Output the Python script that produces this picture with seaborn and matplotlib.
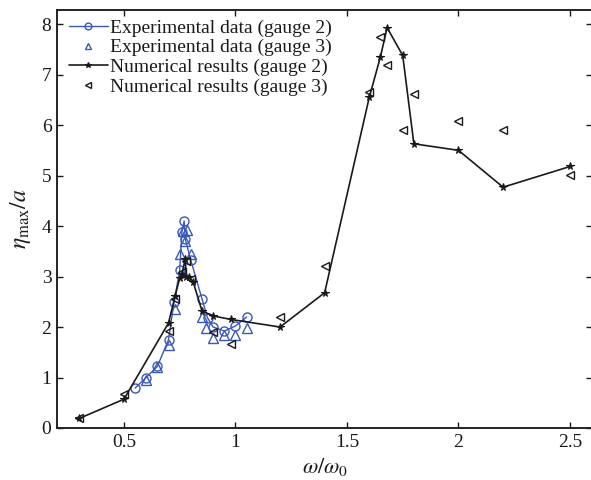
import matplotlib
matplotlib.use("Agg")
import matplotlib.pyplot as plt
import seaborn as sns
import numpy as np

# ---- data ----
exp2_x = [0.55, 0.60, 0.65, 0.70, 0.725, 0.75, 0.76, 0.77, 0.775, 0.80, 0.85, 0.875, 0.90, 0.95, 1.00, 1.05]
exp2_y = [0.79, 1.00, 1.22, 1.75, 2.50, 3.12, 3.88, 4.10, 3.75, 3.32, 2.56, 2.18, 2.00, 1.92, 2.02, 2.20]

exp3_x = [0.60, 0.65, 0.70, 0.73, 0.75, 0.765, 0.775, 0.785, 0.80, 0.85, 0.87, 0.90, 0.95, 1.00, 1.05]
exp3_y = [0.95, 1.20, 1.65, 2.35, 3.45, 3.90, 3.70, 3.92, 3.45, 2.19, 1.99, 1.78, 1.85, 1.85, 1.98]

num2_x = [0.30, 0.50, 0.70, 0.73, 0.75, 0.76, 0.775, 0.78, 0.79, 0.81, 0.85, 0.90, 0.98, 1.20,
          1.40, 1.60, 1.65, 1.68, 1.75, 1.80, 2.00, 2.20, 2.50]
num2_y = [0.19, 0.57, 2.08, 2.62, 2.97, 3.05, 3.35, 3.00, 3.00, 2.90, 2.32, 2.22, 2.15, 2.00,
          2.68, 6.55, 7.35, 7.93, 7.38, 5.63, 5.50, 4.77, 5.18]

num3_x = [0.30, 0.50, 0.70, 0.73, 0.76, 0.78, 0.80, 0.90, 0.98, 1.20,
          1.40, 1.60, 1.65, 1.68, 1.75, 1.80, 2.00, 2.20, 2.50]
num3_y = [0.20, 0.68, 1.92, 2.55, 3.10, 3.30, 2.95, 1.90, 1.67, 2.20,
          3.20, 6.65, 7.75, 7.20, 5.90, 6.62, 6.08, 5.90, 5.02]

labels = ["Experimental data (gauge 2)", "Experimental data (gauge 3)",
          "Numerical results (gauge 2)", "Numerical results (gauge 3)"]
x_ticks = [0.5, 1, 1.5, 2, 2.5]
x_ticklabels = ["0.5", "1", "1.5", "2", "2.5"]
y_ticks = [0, 1, 2, 3, 4, 5, 6, 7, 8]

# ---- style ----
sns.set_theme(style="ticks")
plt.rcParams["font.family"] = ["Liberation Serif", "DejaVu Serif"]
plt.rcParams["mathtext.fontset"] = "stix"

BLUE = "#3a58b8"
BLACK = "#1a1a1a"

fig = plt.figure(figsize=(5.91, 4.80), dpi=100)
ax = fig.add_axes([57 / 591, 52 / 480, (592.3 - 57) / 591, (470 - 52) / 480])

sns.lineplot(x=exp2_x, y=exp2_y, ax=ax, estimator=None, sort=False, color=BLUE,
             linewidth=1.0, marker="o", markersize=6.5, markerfacecolor="none",
             markeredgecolor=BLUE, markeredgewidth=1.0, label=labels[0])
sns.lineplot(x=exp3_x, y=exp3_y, ax=ax, estimator=None, sort=False, color=BLUE,
             linestyle="", marker="^", markersize=6.5, markerfacecolor="none",
             markeredgecolor=BLUE, markeredgewidth=1.0, label=labels[1])
sns.lineplot(x=num2_x, y=num2_y, ax=ax, estimator=None, sort=False, color=BLACK,
             linewidth=1.2, marker="*", markersize=5.5, markerfacecolor=BLACK,
             markeredgecolor=BLACK, markeredgewidth=0.8, label=labels[2])
sns.lineplot(x=num3_x, y=num3_y, ax=ax, estimator=None, sort=False, color=BLACK,
             linestyle="", marker="<", markersize=6, markerfacecolor="none",
             markeredgecolor=BLACK, markeredgewidth=1.0, label=labels[3])

ax.set_xlim(0.2, 2.6)
ax.set_ylim(0, 8.28)
ax.set_xticks(x_ticks)
ax.set_xticklabels(x_ticklabels)
ax.set_yticks(y_ticks)
ax.tick_params(direction="in", length=4, width=1.0, top=True, right=True,
               labelsize=14, colors=BLACK, pad=4)
for s in ax.spines.values():
    s.set_visible(True)
    s.set_linewidth(1.4)
    s.set_color("#222222")

ax.set_xlabel(r"$\omega/\omega_0$", fontsize=16, color=BLACK, labelpad=4)
ax.set_ylabel(r"$\eta_{\max}/a$", fontsize=17, color=BLACK, labelpad=6)

leg = ax.legend(loc="upper left", bbox_to_anchor=(0.022, 0.978), frameon=False,
                fontsize=14, handlelength=2.0, handletextpad=0.1, markerscale=0.75,
                labelspacing=0.1, borderaxespad=0, borderpad=0)
for t in leg.get_texts():
    t.set_color(BLACK)

fig.savefig("out.png", dpi=100)
